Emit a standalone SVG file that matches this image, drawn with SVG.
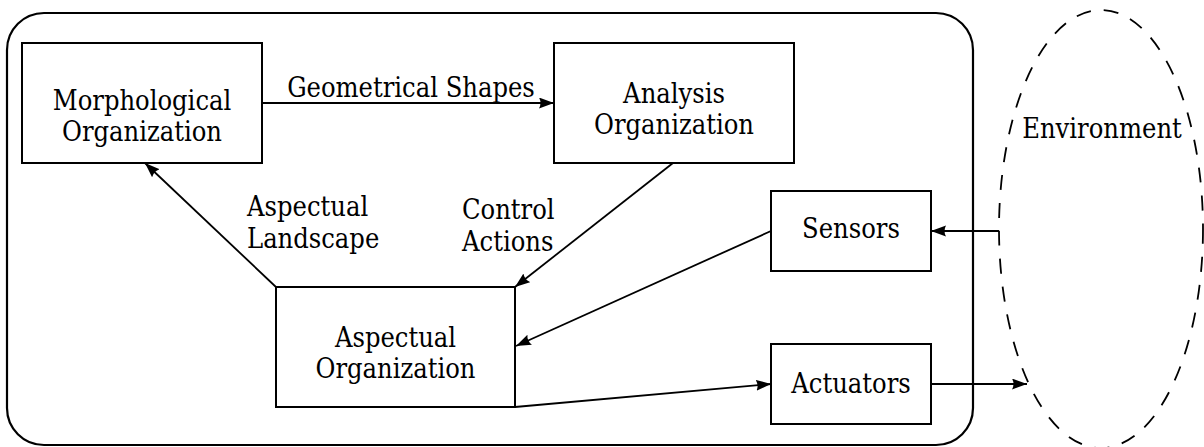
<svg xmlns="http://www.w3.org/2000/svg" width="1204" height="447" viewBox="0 0 1204 447">
<style>
.box{fill:#fff;stroke:#000;stroke-width:2}
.frame{fill:none;stroke:#000;stroke-width:2.2}
.env{fill:none;stroke:#000;stroke-width:1.8;stroke-dasharray:15 13}
.t{font-family:'DejaVu Serif Condensed','DejaVu Serif',serif;font-stretch:condensed;font-size:27px;fill:#000}
.c{text-anchor:middle}
.e{fill:none;stroke:#000;stroke-width:1.8;marker-end:url(#ah)}
</style>
<defs>
<marker id="ah" markerUnits="userSpaceOnUse" markerWidth="17" markerHeight="12" refX="15" refY="5.5" orient="auto">
<path d="M0,0 L15,5.5 L0,11 Q3,5.5 0,0 Z" fill="#000"/>
</marker>
</defs>
<rect class="frame" x="7" y="13" width="966" height="432" rx="37" ry="37"/>
<g id="environment">
<ellipse class="env" cx="1101" cy="229" rx="102" ry="219"/>
<text class="t c" x="1102" y="138">Environment</text>
</g>
<g id="connectors">
<line class="e" x1="262" y1="103" x2="554" y2="103"/>
<text class="t c" x="411" y="97">Geometrical Shapes</text>
<line class="e" x1="276" y1="287" x2="145" y2="163"/>
<line class="e" x1="673" y1="163" x2="515" y2="287"/>
<line class="e" x1="771" y1="231" x2="516" y2="346"/>
<line class="e" x1="515" y1="407" x2="771" y2="384"/>
<line class="e" x1="999" y1="231" x2="931" y2="231"/>
<line class="e" x1="931" y1="384" x2="1027" y2="384"/>
<text class="t" x="247" y="216">Aspectual</text>
<text class="t" x="247" y="248">Landscape</text>
<text class="t" x="462" y="219">Control</text>
<text class="t" x="462" y="251">Actions</text>
</g>
<g id="morphological">
<rect class="box" x="22" y="43" width="240" height="120"/>
<text class="t c" x="142" y="110">Morphological</text>
<text class="t c" x="142" y="141">Organization</text>
</g>
<g id="analysis">
<rect class="box" x="554" y="43" width="240" height="120"/>
<text class="t c" x="674" y="103">Analysis</text>
<text class="t c" x="674" y="134">Organization</text>
</g>
<g id="aspectual">
<rect class="box" x="276" y="287" width="239" height="120"/>
<text class="t c" x="395.5" y="347">Aspectual</text>
<text class="t c" x="395.5" y="378">Organization</text>
</g>
<g id="sensors">
<rect class="box" x="771" y="191" width="160" height="80"/>
<text class="t c" x="851" y="238">Sensors</text>
</g>
<g id="actuators">
<rect class="box" x="771" y="344" width="160" height="80"/>
<text class="t c" x="851" y="393">Actuators</text>
</g>
</svg>
